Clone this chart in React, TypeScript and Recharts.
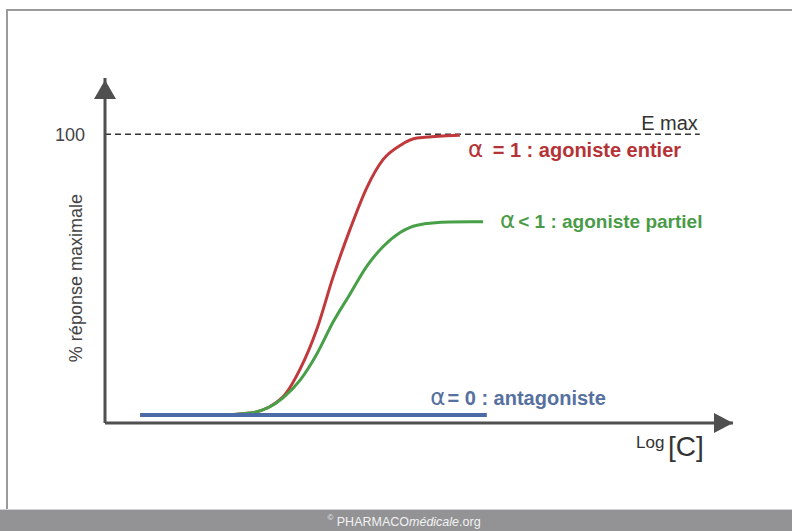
import React from "react";
import { LineChart, Line, XAxis, YAxis, ReferenceLine, ReferenceDot, Label } from "recharts";

// log[C] positions (arbitrary units, 0..100 across the axis) and % of max response
const fullX = [5.6, 18, 23.1, 28.3, 31.1, 33.8, 36.3, 39, 41.7, 44.3, 47, 49.7, 56.5];
const fullY = [0, 0, 0.7, 6.4, 16.5, 31, 49, 66, 81, 91, 96, 98.6, 99.6];

const partialX = [5.6, 18, 23.1, 28.3, 31.1, 33.8, 36.3, 39, 41.7, 44.3, 47, 49.7, 54.9, 60.2];
const partialY = [0, 0, 0.7, 6, 12.5, 22, 33, 43, 53, 60, 65, 67.6, 68.7, 68.8];

const antagonistX = [5.6, 60.8];
const antagonistY = [0, 0];

const yTicks = [100];
const emax = 100;

const zip = (xs: number[], ys: number[]) => xs.map((x, i) => ({ x, y: ys[i] }));

const fullData = zip(fullX, fullY);
const partialData = zip(partialX, partialY);
const antagonistData = zip(antagonistX, antagonistY);

const FONT = "'Liberation Sans', Arial, sans-serif";
const AXIS = "#4f4f4f";

const RED = "#c0393c";
const GREEN = "#47a047";
const BLUE = "#4b6aa8";

const arrowUp = (p: any) => (
  <path d={`M${p.cx},${p.cy + 2} L${p.cx - 11},${p.cy + 21} L${p.cx + 11},${p.cy + 21} Z`} fill={AXIS} />
);
const arrowRight = (p: any) => (
  <path d={`M${p.cx},${p.cy} L${p.cx - 19},${p.cy - 10} L${p.cx - 19},${p.cy + 10} Z`} fill={AXIS} />
);

const alphaLabel = (rest: string, color: string, gap: number, size: number) => (p: any) => (
  <text x={p.cx} y={p.cy} fill={color} fontFamily={FONT}>
    <tspan fontSize={23} fontFamily="'DejaVu Sans', sans-serif">α</tspan>
    <tspan dx={gap} fontSize={size} fontWeight="bold">{rest}</tspan>
  </text>
);

const emaxLabel = (p: any) => (
  <text x={p.cx} y={p.cy - 4} textAnchor="end" fill="#333" fontFamily={FONT} fontSize={20}>
    E max
  </text>
);

export default function App() {
  return (
    <div style={{ position: "absolute", left: 0, top: 0, width: 792, height: 531, background: "#fff", overflow: "hidden" }}>
      <div
        style={{
          position: "absolute",
          left: 6,
          top: 9,
          right: 0,
          bottom: 21,
          borderTop: "2px solid #9a9a9a",
          borderLeft: "2px solid #9a9a9a",
        }}
      />
      <div
        style={{
          position: "absolute",
          left: 0,
          top: 509,
          width: 792,
          height: 22,
          background: "#939395",
          borderTop: "1px solid #d4d4d4",
          color: "#f2f2f2",
          fontFamily: FONT,
          fontSize: 12.5,
          textAlign: "center",
          lineHeight: "24px",
          paddingLeft: 16,
          boxSizing: "border-box",
        }}
      >
        <span style={{ fontSize: 8, verticalAlign: "top", lineHeight: "16px" }}>©</span> PHARMACO<i>médicale</i>.org
      </div>
      <div style={{ position: "absolute", left: 0, top: 0 }}>
        <LineChart width={792} height={531} margin={{ top: 78, right: 59, bottom: 78, left: 45 }}>
          <XAxis
            type="number"
            dataKey="x"
            domain={[0, 100]}
            allowDataOverflow
            height={30}
            tick={false}
            tickLine={false}
            axisLine={{ stroke: AXIS, strokeWidth: 3 }}
          >
            <Label
              content={(props: any) => {
                const vb = props.viewBox || { x: 105, y: 423, width: 628 };
                const right = vb.x + vb.width;
                return (
                  <text fill="#333" fontFamily={FONT}>
                    <tspan x={right - 97} y={vb.y + 25} fontSize={17}>Log</tspan>
                    <tspan x={right - 65} y={vb.y + 33} fontSize={28}>[C]</tspan>
                  </text>
                );
              }}
            />
          </XAxis>
          <YAxis
            type="number"
            domain={[-2.85, 120]}
            allowDataOverflow
            ticks={yTicks}
            width={60}
            tickSize={6}
            tickMargin={14}
            tickLine={false}
            tick={{ fill: "#444", fontSize: 18, fontFamily: FONT }}
            axisLine={{ stroke: AXIS, strokeWidth: 3 }}
          >
            <Label
              content={(props: any) => {
                const vb = props.viewBox || { x: 45, y: 78, width: 60, height: 345 };
                const cx = vb.x + 37;
                const cy = vb.y + vb.height * 0.58;
                return (
                  <text
                    x={cx}
                    y={cy}
                    transform={`rotate(-90 ${cx} ${cy})`}
                    textAnchor="middle"
                    fill="#444"
                    fontFamily={FONT}
                    fontSize={18}
                  >
                    % réponse maximale
                  </text>
                );
              }}
            />
          </YAxis>

          <ReferenceLine
            segment={[{ x: 0, y: emax }, { x: 94.7, y: emax }]}
            stroke="#333"
            strokeWidth={1.5}
            strokeDasharray="6 4"
          />
          <ReferenceDot x={94.4} y={emax} r={0} shape={emaxLabel} />

          <Line data={fullData} dataKey="y" type="monotone" stroke={RED} strokeWidth={3} dot={false} isAnimationActive={false} />
          <Line data={partialData} dataKey="y" type="monotone" stroke={GREEN} strokeWidth={3} dot={false} isAnimationActive={false} />
          <Line data={antagonistData} dataKey="y" type="linear" stroke={BLUE} strokeWidth={4} dot={false} isAnimationActive={false} />

          <ReferenceDot x={57.8} y={91.8} r={0} shape={alphaLabel(" = 1 : agoniste entier", "#b53336", 4, 20)} />
          <ReferenceDot x={62.9} y={66.5} r={0} shape={alphaLabel("< 1 : agoniste partiel", "#4a9b48", 3, 19)} />
          <ReferenceDot x={51.8} y={3.6} r={0} shape={alphaLabel("= 0 : antagoniste", "#56709f", 2, 20)} />

          <ReferenceDot x={0} y={120} r={0} shape={arrowUp} />
          <ReferenceDot x={100} y={-2.85} r={0} shape={arrowRight} />
        </LineChart>
      </div>
    </div>
  );
}
